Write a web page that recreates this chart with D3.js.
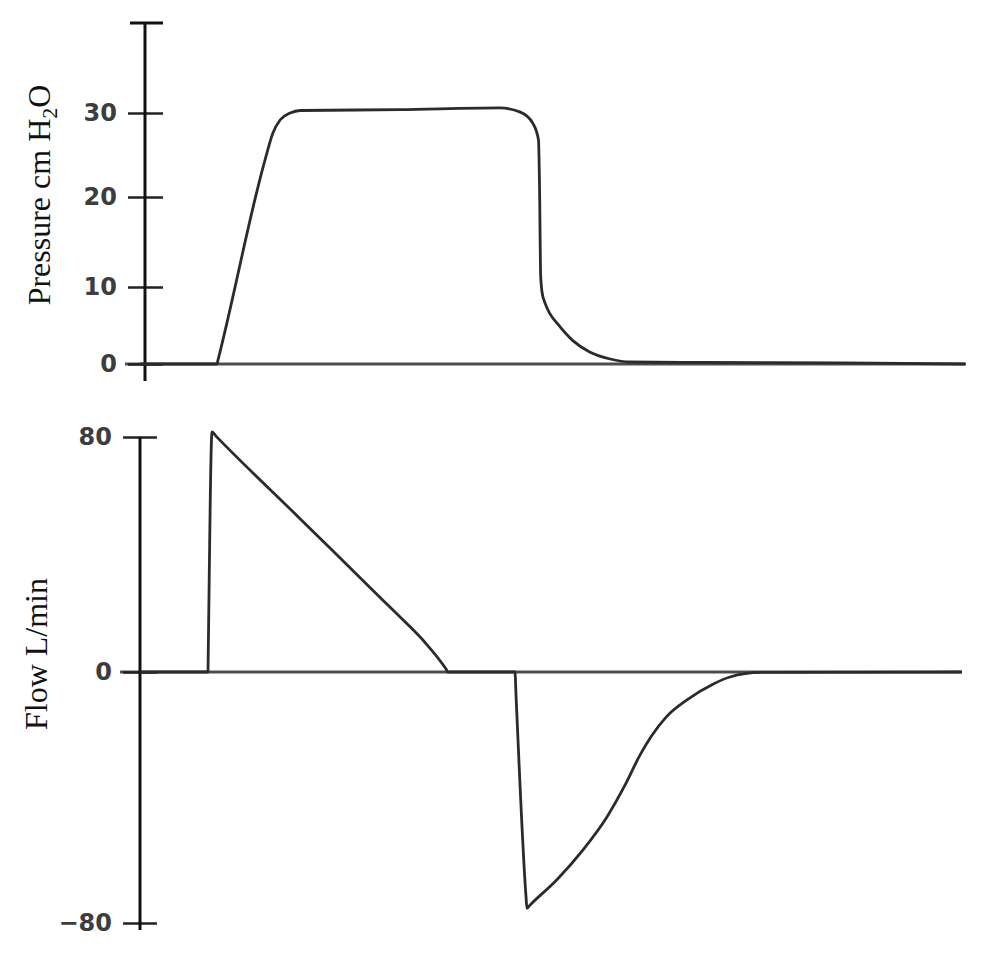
<!DOCTYPE html>
<html>
<head>
<meta charset="utf-8">
<script src="https://cdn.jsdelivr.net/npm/d3@7"></script>
<style>
  body { margin: 0; background: #fff; }
  .tick text { font-family: "DejaVu Sans", sans-serif; font-size: 24px; font-weight: bold; fill: #3d3d3d; }
  .title { font-family: "Liberation Serif", "Times New Roman", serif; font-size: 32px; fill: #111; }
  .curve { fill: none; stroke: #2b2b2b; stroke-width: 2.8; stroke-linejoin: round; }
  .base { stroke: #4a4e54; stroke-width: 3; }
  .axisline { stroke: #111; stroke-width: 3; }
</style>
</head>
<body>
<svg width="1003" height="967"></svg>
<script>
// tick labels
const pressureTicks = [0, 10, 20, 30]
const flowTicks = [-80, 0, 80]
const pressureAxisTop = 40.7

// pressure waveform (time in arbitrary units, cm H2O)
const pressureTime = [0, 9.33, 9.45, 15.15, 16.1, 17.0, 18.2, 19.4, 31.5, 43.6, 46.1, 47.6, 48.3, 48.45, 48.55, 48.73, 49.1, 49.7, 50.55, 52.5, 54.5, 57.0, 59.4, 68, 85, 100]
const pressureValue = [0, 0, 0.5, 24.4, 27.6, 29.2, 30.0, 30.3, 30.4, 30.6, 30.1, 28.8, 26.8, 19.7, 11.6, 9.35, 7.9, 6.5, 5.3, 3.0, 1.56, 0.65, 0.26, 0.2, 0.15, 0]

// flow waveform (L/min)
const flowTime = [0, 8.24, 8.27, 8.73, 9.21, 19.4, 29.1, 31.9, 34.5, 37.1, 37.33, 45.45, 45.58, 46.8, 46.9, 47.27, 50.5, 53.7, 56.6, 58.8, 60.6, 62.0, 63.8, 66.3, 69.5, 71.5, 75.2, 99.6]
const flowValue = [0, 0, 6, 81.7, 80.3, 52.2, 25.4, 17.7, 10.2, 1.0, 0, 0, -7.6, -72, -75.3, -74.3, -66.3, -56.7, -46.2, -36.0, -26.5, -20.4, -14.3, -8.9, -3.8, -1.6, -0.15, 0]

const svg = d3.select('svg')

const x = d3.scaleLinear().domain([0, 100]).range([140, 965])

// the scanned figure is not perfectly linear, so use piecewise scales
const yPressure = d3.scaleLinear().domain([0, 10, 20, 30]).range([364, 287, 197, 113])
const yFlow = d3.scaleLinear().domain([-80, 0, 80]).range([923, 672, 437])

const pressureAxisX = 145
const flowAxisX = 140

// ---- pressure panel ----
svg.append('line')
  .attr('class', 'base')
  .attr('x1', 125).attr('x2', 966)
  .attr('y1', yPressure(0)).attr('y2', yPressure(0))

const pAxis = svg.append('g')
  .attr('transform', `translate(${pressureAxisX},0)`)
  .call(d3.axisLeft(yPressure).tickValues(pressureTicks).tickSize(17).tickPadding(11))
pAxis.select('.domain').remove()
pAxis.selectAll('.tick line').attr('x1', 18).attr('stroke', '#222').attr('stroke-width', 2.5)

svg.append('line')
  .attr('class', 'axisline')
  .attr('x1', pressureAxisX).attr('x2', pressureAxisX)
  .attr('y1', yPressure(pressureAxisTop)).attr('y2', yPressure(0) + 17)
svg.append('line')
  .attr('class', 'axisline')
  .attr('x1', pressureAxisX - 15).attr('x2', pressureAxisX + 18)
  .attr('y1', yPressure(pressureAxisTop)).attr('y2', yPressure(pressureAxisTop))

const pressureLine = d3.line()
  .x(i => x(pressureTime[i]))
  .y(i => yPressure(pressureValue[i]))
  .curve(d3.curveMonotoneX)

svg.append('path')
  .attr('class', 'curve')
  .attr('d', pressureLine(d3.range(pressureTime.length)))

const pTitle = svg.append('text')
  .attr('class', 'title')
  .attr('text-anchor', 'middle')
  .attr('transform', 'translate(50,195) rotate(-90)')
pTitle.append('tspan').text('Pressure cm H')
pTitle.append('tspan').attr('font-size', 22).attr('dy', 7).text('2')
pTitle.append('tspan').attr('dy', -7).text('O')

// ---- flow panel ----
svg.append('line')
  .attr('class', 'base')
  .attr('x1', 120).attr('x2', 962)
  .attr('y1', yFlow(0)).attr('y2', yFlow(0))

const fAxis = svg.append('g')
  .attr('transform', `translate(${flowAxisX},0)`)
  .call(d3.axisLeft(yFlow).tickValues(flowTicks).tickSize(17).tickPadding(11))
fAxis.select('.domain').remove()
fAxis.selectAll('.tick line').attr('x1', 17).attr('stroke', '#222').attr('stroke-width', 2.5)

svg.append('line')
  .attr('class', 'axisline')
  .attr('x1', flowAxisX).attr('x2', flowAxisX)
  .attr('y1', yFlow(80)).attr('y2', yFlow(-80) + 7)

const flowLine = d3.line()
  .x(i => x(flowTime[i]))
  .y(i => yFlow(flowValue[i]))
  .curve(d3.curveMonotoneX)

svg.append('path')
  .attr('class', 'curve')
  .attr('d', flowLine(d3.range(flowTime.length)))

svg.append('text')
  .attr('class', 'title')
  .attr('text-anchor', 'middle')
  .attr('transform', 'translate(47,654) rotate(-90)')
  .text('Flow L/min')
</script>
</body>
</html>
